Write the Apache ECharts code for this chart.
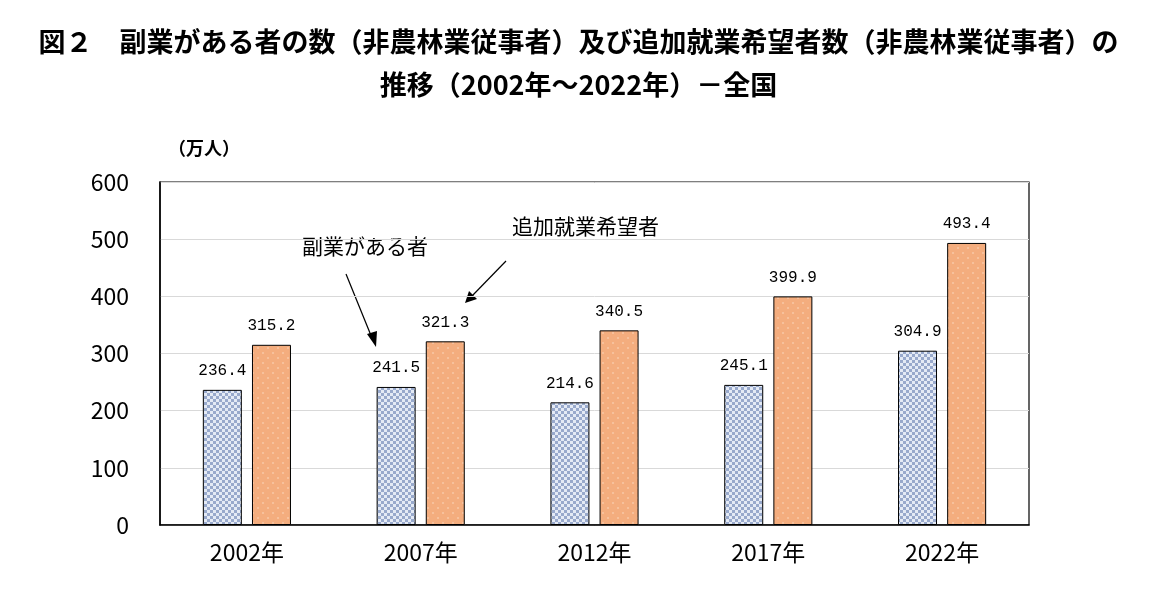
<!DOCTYPE html>
<html><head><meta charset="utf-8">
<script src="https://cdn.jsdelivr.net/npm/echarts@6/dist/echarts.min.js"></script>
<style>html,body{margin:0;padding:0;background:#fff}#c{width:1157px;height:612px}</style>
</head><body><div id="c"></div>
<script>
const categories = ['2002年','2007年','2012年','2017年','2022年'];
const sideJob = [236.4, 241.5, 214.6, 245.1, 304.9];
const additional = [315.2, 321.3, 340.5, 399.9, 493.4];
const yTicks = [0,100,200,300,400,500,600];

function checker(){
  const c = document.createElement('canvas'); c.width = 6; c.height = 6;
  const g = c.getContext('2d');
  g.fillStyle = '#e4eaf5'; g.fillRect(0,0,6,6);
  g.fillStyle = '#98a9cc'; g.fillRect(0,0,3,3); g.fillRect(3,3,3,3);
  return c;
}
function orangeTex(){
  const c = document.createElement('canvas'); c.width = 10; c.height = 10;
  const g = c.getContext('2d');
  g.fillStyle = '#f4ad7e'; g.fillRect(0,0,10,10);
  g.fillStyle = '#f7c19c'; g.fillRect(2,2,2,2); g.fillRect(7,7,2,2);
  return c;
}
const axisFont = '"Liberation Sans Narrow","Noto Sans CJK JP",sans-serif';
const chart = echarts.init(document.getElementById('c'));
chart.setOption({
  animation:false,
  title:{
    text:'図２　副業がある者の数（非農林業従事者）及び追加就業希望者数（非農林業従事者）の\n推移（2002年～2022年）－全国',
    left:'center', top:15,
    textStyle:{fontFamily:'"Noto Sans CJK JP"', fontSize:27, fontWeight:'bold', color:'#000', lineHeight:43}
  },
  grid:{left:160, right:128, top:182, bottom:87, show:true, borderColor:'#000', borderWidth:1.2, containLabel:false},
  xAxis:{
    type:'category', data:categories,
    axisLine:{lineStyle:{color:'#000', width:1.5}},
    axisTick:{show:false},
    axisLabel:{fontFamily:axisFont, fontSize:23, color:'#000', margin:16}
  },
  yAxis:{
    type:'value', min:0, max:600, interval:100,
    axisLine:{show:true, lineStyle:{color:'#000', width:1.5}},
    axisTick:{show:false},
    splitLine:{lineStyle:{color:'#d9d9d9', width:1}},
    axisLabel:{fontFamily:axisFont, fontSize:23, color:'#000', margin:31,
      formatter:v=>yTicks.includes(v)?String(v):''}
  },
  series:[
    {type:'bar', name:'副業がある者', data:sideJob, barWidth:39, barGap:'26%',
     itemStyle:{color:{image:checker(), repeat:'repeat'}, borderColor:'#000', borderWidth:1},
     label:{show:true, position:'top', distance:11, fontFamily:'"Liberation Mono"', fontSize:16, color:'#000',
       formatter:p=>p.value.toFixed(1)}},
    {type:'bar', name:'追加就業希望者', data:additional, barWidth:39,
     itemStyle:{color:{image:orangeTex(), repeat:'repeat'}, borderColor:'#000', borderWidth:1},
     label:{show:true, position:'top', distance:11, fontFamily:'"Liberation Mono"', fontSize:16, color:'#000',
       formatter:p=>p.value.toFixed(1)}}
  ],
  graphic:[
    {type:'text', left:168, top:139, style:{text:'（万人）', font:'bold 18px "Noto Sans CJK JP"', fill:'#000'}},
    {type:'text', left:302, top:236, style:{text:'副業がある者', font:'21px "Noto Sans CJK JP"', fill:'#000'}},
    {type:'text', left:512, top:216, style:{text:'追加就業希望者', font:'21px "Noto Sans CJK JP"', fill:'#000'}},
    {type:'line', shape:{x1:346, y1:274, x2:372, y2:338}, style:{stroke:'#000', lineWidth:1.2}},
    {type:'polygon', shape:{points:[[376,347],[367,334],[377,331]]}, style:{fill:'#000'}},
    {type:'line', shape:{x1:506, y1:261, x2:472, y2:296}, style:{stroke:'#000', lineWidth:1.2}},
    {type:'polygon', shape:{points:[[465,303],[469,291],[477,299]]}, style:{fill:'#000'}}
  ]
});
</script></body></html>
